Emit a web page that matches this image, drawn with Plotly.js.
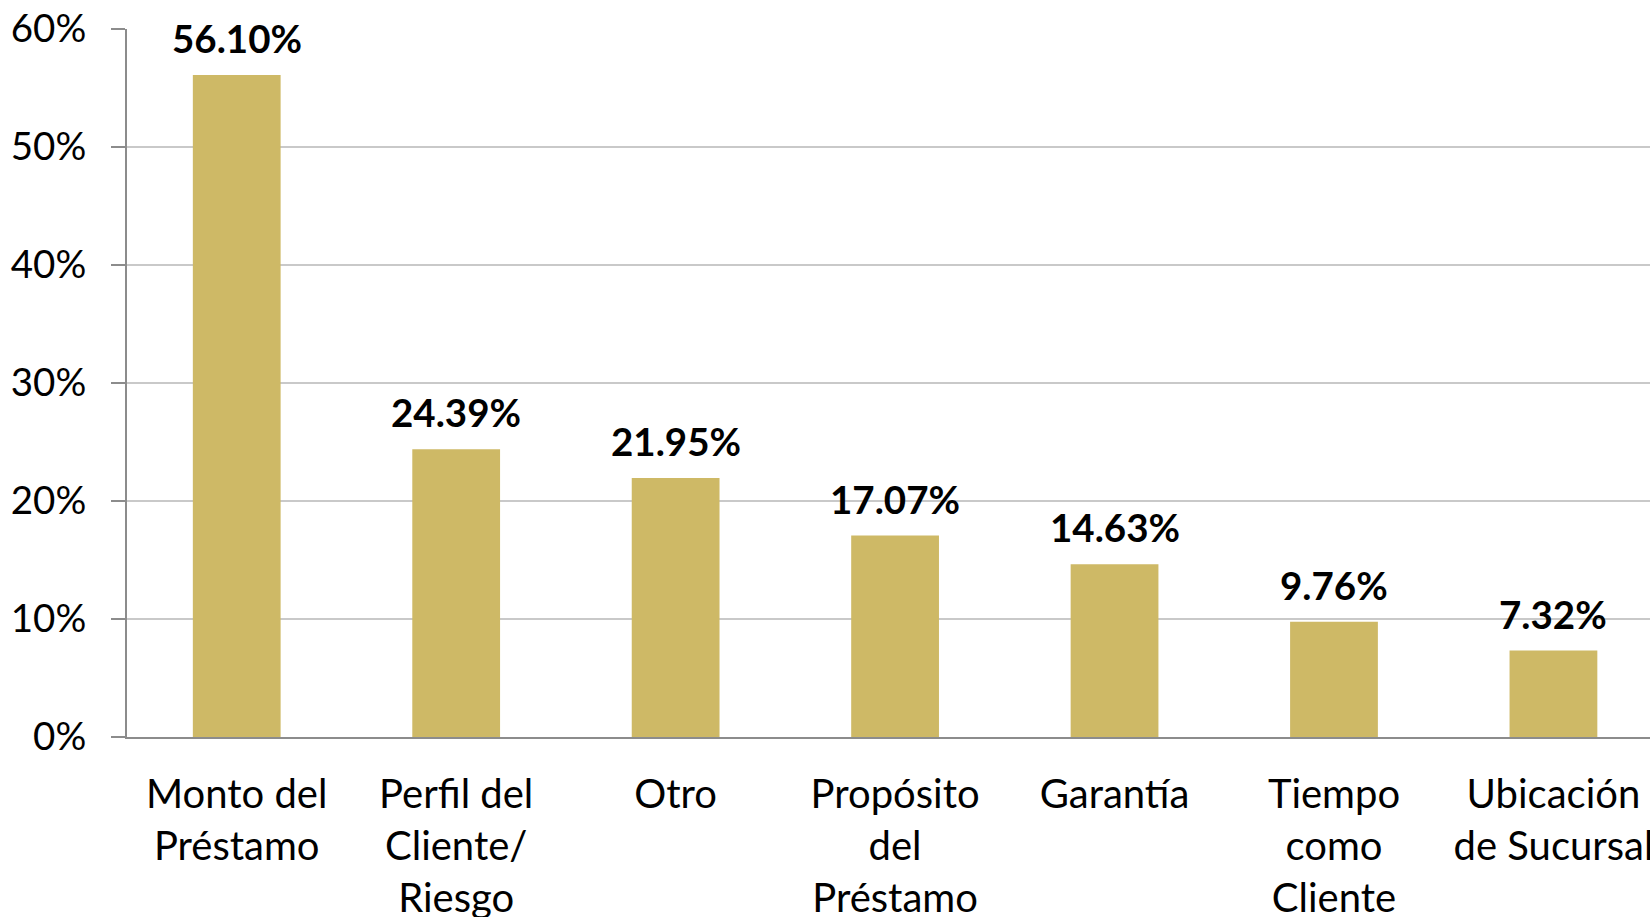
<!DOCTYPE html>
<html>
<head>
<meta charset="utf-8">
<script src="https://cdn.plot.ly/plotly-3.0.1.min.js"></script>
<style>
  html, body { margin: 0; padding: 0; background: #ffffff; }
  #chart { width: 1650px; height: 917px; }
</style>
</head>
<body>
<div id="chart"></div>
<script>
const categories = [
  "Monto del<br>Préstamo",
  "Perfil del<br>Cliente/<br>Riesgo",
  "Otro",
  "Propósito<br>del<br>Préstamo",
  "Garantía",
  "Tiempo<br>como<br>Cliente",
  "Ubicación<br>de Sucursal"
];
const values = [56.10, 24.39, 21.95, 17.07, 14.63, 9.76, 7.32];
const valueLabels = ["56.10%", "24.39%", "21.95%", "17.07%", "14.63%", "9.76%", "7.32%"];
const yTickValues = [0, 10, 20, 30, 40, 50, 60];

const fontFamily = "Lato, 'Open Sans', sans-serif";

const trace = {
  type: "bar",
  x: categories,
  y: values,
  marker: { color: "#CEB966" },
  hoverinfo: "skip"
};

const annotations = categories.map((c, i) => ({
  x: c,
  y: values[i],
  text: "<b>" + valueLabels[i] + "</b>",
  showarrow: false,
  xanchor: "center",
  yanchor: "bottom",
  yshift: 12,
  font: { family: fontFamily, size: 38.5, color: "#000000" }
}));

const layout = {
  width: 1650,
  height: 917,
  margin: { l: 127, r: 0, t: 29, b: 180, pad: 0 },
  paper_bgcolor: "#ffffff",
  plot_bgcolor: "#ffffff",
  showlegend: false,
  bargap: 0.6,
  font: { family: fontFamily, size: 40, color: "#000000" },
  xaxis: {
    type: "category",
    range: [-0.5, 6.44],
    showline: true,
    linecolor: "#8c8c8c",
    linewidth: 2,
    ticks: "",
    showgrid: false,
    zeroline: false,
    tickfont: { family: fontFamily, size: 40, color: "#000000" },
    ticklabelstandoff: 21,
    fixedrange: true
  },
  yaxis: {
    range: [0, 60],
    tickvals: yTickValues,
    ticktext: yTickValues.map(v => v + "%"),
    showline: true,
    linecolor: "#8c8c8c",
    linewidth: 2,
    ticks: "outside",
    ticklen: 14,
    tickwidth: 1.5,
    tickcolor: "#8c8c8c",
    showgrid: true,
    gridcolor: "#c9c9c9",
    gridwidth: 1.5,
    zeroline: false,
    tickfont: { family: fontFamily, size: 38.5, color: "#000000" },
    ticklabelstandoff: 17,
    fixedrange: true
  },
  annotations: annotations
};

Plotly.newPlot("chart", [trace], layout, { displayModeBar: false, staticPlot: true });
</script>
</body>
</html>
